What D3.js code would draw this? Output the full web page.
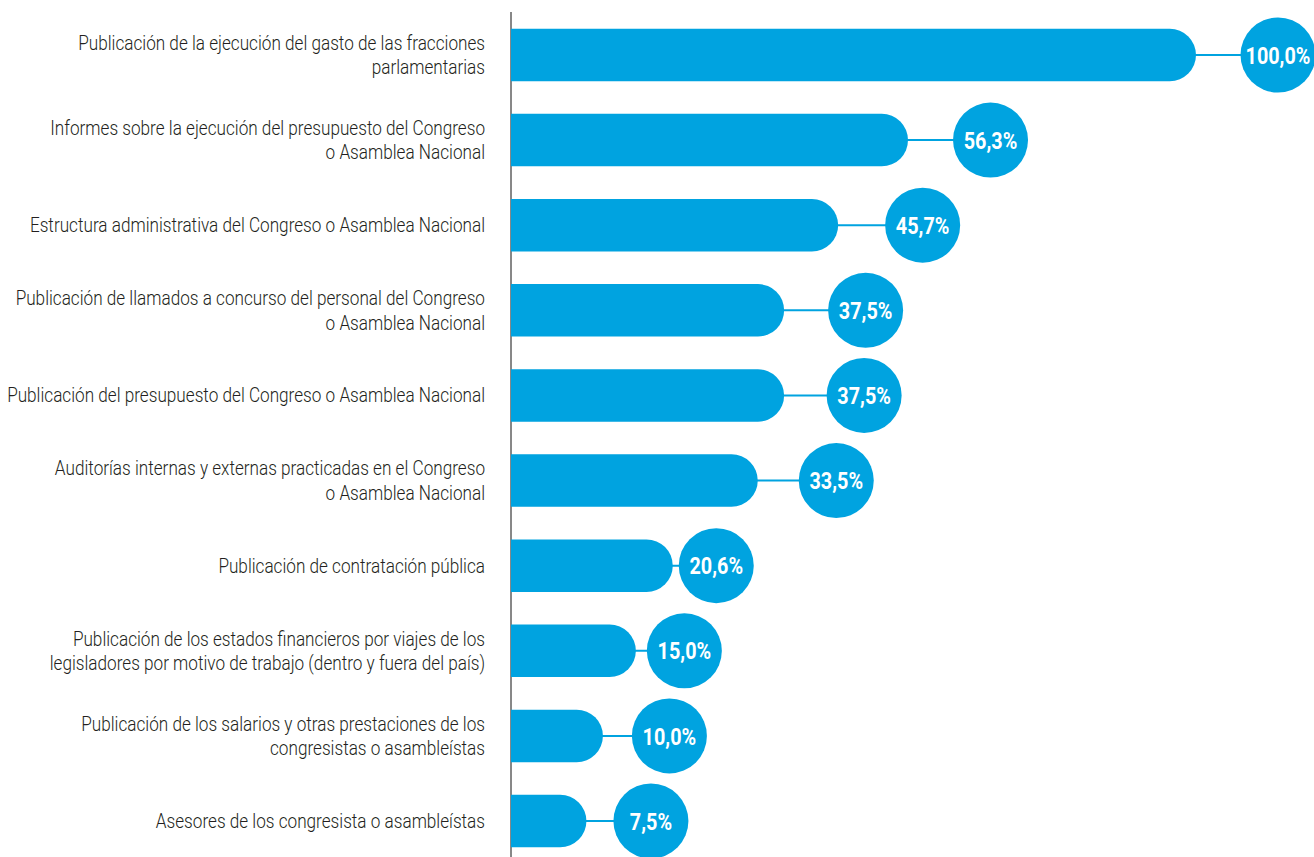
<!DOCTYPE html>
<html><head><meta charset="utf-8">
<script src="https://cdn.jsdelivr.net/npm/d3@7"></script>
<style>
html,body{margin:0;padding:0;background:#fff;}
svg{display:block;}
</style></head>
<body>
<svg id="chart" width="1314" height="857"></svg>
<script>
// ---- DATA ----
const categories = [
  "Publicación de la ejecución del gasto de las fracciones\nparlamentarias",
  "Informes sobre la ejecución del presupuesto del Congreso\no Asamblea Nacional",
  "Estructura administrativa del Congreso o Asamblea Nacional",
  "Publicación de llamados a concurso del personal del Congreso\no Asamblea Nacional",
  "Publicación del presupuesto del Congreso o Asamblea Nacional",
  "Auditorías internas y externas practicadas en el Congreso\no Asamblea Nacional",
  "Publicación de contratación pública",
  "Publicación de los estados financieros por viajes de los\nlegisladores por motivo de trabajo (dentro y fuera del país)",
  "Publicación de los salarios y otras prestaciones de los\ncongresistas o asambleístas",
  "Asesores de los congresista o asambleístas"
];
const values = [100.0, 56.3, 45.7, 37.5, 37.5, 33.5, 20.6, 15.0, 10.0, 7.5];

// ---- LAYOUT ----
const W = 1314, H = 857;
const axisX = 511;
const capR = 26;          // rounded end of bars
const bubbleR = 37.5;
// leader-line lengths (annotation nudges, px) from bar end to bubble centre
const leader = [82, 82.5, 84.5, 81.5, 80, 78.5, 43.5, 48.5, 66.5, 64.5];
const blue = "#00a3e0";
const labelFont = "Roboto, 'DejaVu Sans', sans-serif";
const valueFont = "Roboto, 'DejaVu Sans', sans-serif";

const svg = d3.select("#chart");

const y = d3.scaleBand()
  .domain(categories)
  .range([12.45, 863.55])
  .paddingInner(0.383)
  .paddingOuter(0.1915);

const x = d3.scaleLinear().domain([0, 100]).range([axisX + capR, 1196]);

const fmt = v => d3.format(".1f")(v).replace(".", ",") + "%";

const data = categories.map((c, i) => ({ c, v: values[i], i }));

// axis line
svg.append("line")
  .attr("x1", axisX).attr("x2", axisX)
  .attr("y1", 12).attr("y2", H)
  .attr("stroke", "#111").attr("stroke-width", 1);

function barPath(d) {
  const x0 = axisX, x1 = x(d.v), t = y(d.c), h = y.bandwidth(), r = h / 2;
  const xs = x1 - r;
  return `M${x0},${t}H${xs}A${r},${r} 0 0 1 ${xs},${t + h}H${x0}Z`;
}

const g = svg.append("g");

// leader lines
g.selectAll("line.leader").data(data).join("line")
  .attr("class", "leader")
  .attr("x1", d => x(d.v) - 2)
  .attr("x2", d => x(d.v) + leader[d.i])
  .attr("y1", d => y(d.c) + y.bandwidth() / 2)
  .attr("y2", d => y(d.c) + y.bandwidth() / 2)
  .attr("stroke", blue).attr("stroke-width", 2);

// bars
g.selectAll("path.bar").data(data).join("path")
  .attr("class", "bar")
  .attr("d", barPath)
  .attr("fill", blue);

// bubbles
g.selectAll("circle.bubble").data(data).join("circle")
  .attr("class", "bubble")
  .attr("cx", d => x(d.v) + leader[d.i])
  .attr("cy", d => y(d.c) + y.bandwidth() / 2)
  .attr("r", bubbleR)
  .attr("fill", blue);

// value labels (condensed via horizontal scale)
const vals = g.selectAll("g.val").data(data).join("g")
  .attr("class", "val")
  .attr("transform", d => `translate(${x(d.v) + leader[d.i]},${y(d.c) + y.bandwidth() / 2})`);
const vText = vals.append("text")
  .attr("dy", "0.36em")
  .attr("text-anchor", "middle")
  .attr("fill", "#fff")
  .style("font-family", valueFont)
  .style("font-weight", "bold")
  .style("font-size", "24px")
  .text(d => fmt(d.v));
const vW = vText.nodes()[0].getComputedTextLength();
const vk = 65 / vW;
vText.attr("transform", `scale(${vk},1)`);

// category labels (condensed via horizontal scale)
const labG = g.append("g").attr("transform", "translate(485,0)");
const lab = labG.selectAll("text.cat").data(data).join("text")
  .attr("class", "cat")
  .attr("text-anchor", "end")
  .attr("fill", "#231f20")
  .style("font-family", labelFont)
  .style("font-weight", 300)
  .style("font-size", "20px");

lab.each(function(d) {
  const lines = d.c.split("\n");
  const cy = y(d.c) + y.bandwidth() / 2;
  const lh = 24.5;
  const start = cy - (lines.length - 1) * lh / 2;
  d3.select(this).selectAll("tspan").data(lines).join("tspan")
    .attr("x", 0)
    .attr("y", (l, k) => start + k * lh)
    .attr("dy", "0.35em")
    .text(l => l);
});
const firstSpan = lab.nodes()[0].querySelector("tspan");
const lk = 407 / firstSpan.getComputedTextLength();
labG.attr("transform", `translate(485,0) scale(${lk},1)`);
</script>
</body></html>
